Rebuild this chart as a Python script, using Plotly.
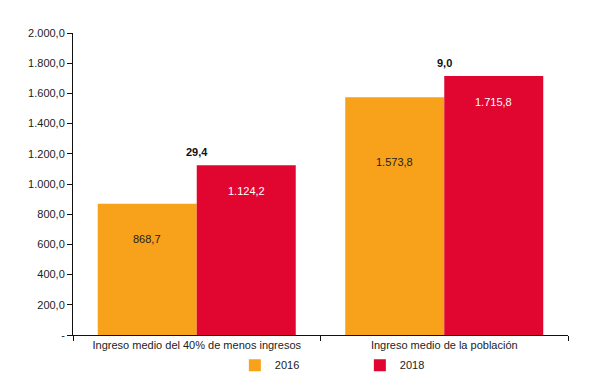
import plotly.graph_objects as go

categories = ["Ingreso medio del 40% de menos ingresos", "Ingreso medio de la población"]
values_2016 = [868.7, 1573.8]
values_2018 = [1124.2, 1715.8]
labels_2016 = ["868,7", "1.573,8"]
labels_2018 = ["1.124,2", "1.715,8"]
diff_labels = ["29,4", "9,0"]
tick_vals = [0, 200, 400, 600, 800, 1000, 1200, 1400, 1600, 1800, 2000]
tick_text = ["-", "200,0", "400,0", "600,0", "800,0", "1.000,0", "1.200,0",
             "1.400,0", "1.600,0", "1.800,0", "2.000,0"]

ORANGE = "#F8A11B"
RED = "#E1062F"
FONT = "Liberation Sans, Arial, sans-serif"

fig = go.Figure()
fig.add_trace(go.Bar(x=categories, y=values_2016, name="2016", marker_color=ORANGE,
                     marker_line_width=0))
fig.add_trace(go.Bar(x=categories, y=values_2018, name="2018", marker_color=RED,
                     marker_line_width=0))

annotations = []
for i in range(len(categories)):
    annotations.append(dict(x=i - 0.2, y=values_2016[i] * 0.73, xref="x", yref="y",
                            text=labels_2016[i], showarrow=False,
                            font=dict(family=FONT, size=11, color="#222222")))
    annotations.append(dict(x=i + 0.2, y=values_2018[i], xref="x", yref="y",
                            text=labels_2018[i], showarrow=False, yshift=-26,
                            font=dict(family=FONT, size=11, color="white")))
    annotations.append(dict(x=i, y=values_2018[i], xref="x", yref="y",
                            text="<b>" + diff_labels[i] + "</b>", showarrow=False, yshift=13,
                            font=dict(family=FONT, size=11, color="#111111")))

fig.update_layout(
    width=600, height=391,
    margin=dict(l=65, r=40, t=25, b=64),
    paper_bgcolor="white", plot_bgcolor="white",
    barmode="group", bargap=0.2, bargroupgap=0,
    font=dict(family=FONT, size=11, color="#222222"),
    showlegend=True,
    legend=dict(orientation="h", x=0.327, xanchor="left", y=-0.1, yanchor="middle",
                entrywidth=80, font=dict(size=11), itemwidth=30,
                bgcolor="rgba(0,0,0,0)"),
    annotations=annotations,
)
fig.update_xaxes(showline=True, linecolor="#111111", linewidth=1,
                 ticks="outside", tickson="boundaries", ticklen=5, tickcolor="#111111",
                 showgrid=False, zeroline=False, range=[-0.5, 1.5])
fig.update_yaxes(range=[0, 2000], tickvals=tick_vals, ticktext=tick_text,
                 showline=True, linecolor="#111111", linewidth=1,
                 ticks="outside", ticklen=5, tickcolor="#111111",
                 showgrid=False, zeroline=False)

fig.write_html("out.html")
